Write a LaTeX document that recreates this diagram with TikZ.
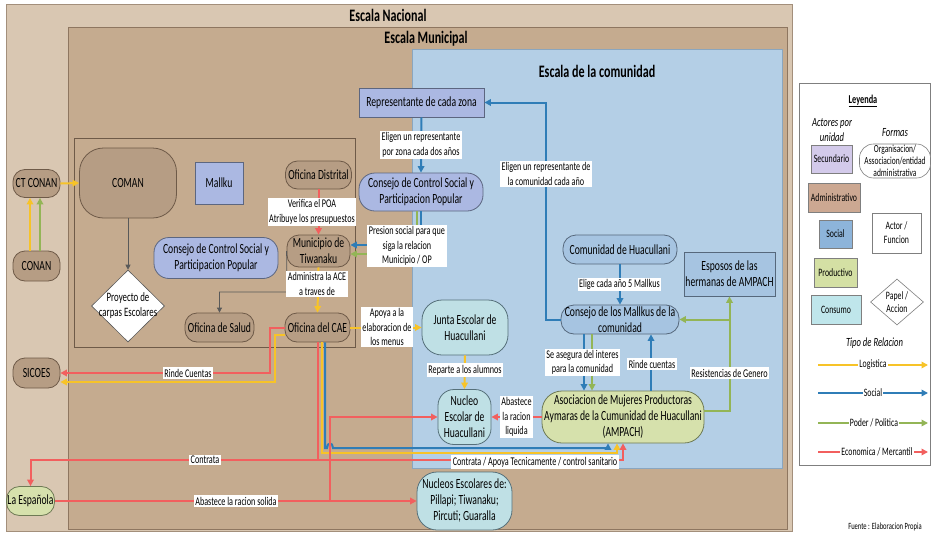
\documentclass[tikz,border=0pt]{standalone}
\usepackage{fontspec}
\setmainfont[FakeStretch=0.69]{Carlito}
\usetikzlibrary{arrows.meta,shapes.geometric}
\definecolor{nacfill}{HTML}{D9C7B2}
\definecolor{nacline}{HTML}{A38F7B}
\definecolor{munfill}{HTML}{C5AB8F}
\definecolor{munline}{HTML}{8E7660}
\definecolor{comfill}{HTML}{B4CFE6}
\definecolor{comline}{HTML}{8AA6BF}
\definecolor{admfill}{HTML}{B69D84}
\definecolor{admline}{HTML}{6E5A48}
\definecolor{secfill}{HTML}{ABB8E2}
\definecolor{secline}{HTML}{5C6680}
\definecolor{socfill}{HTML}{A6C4E1}
\definecolor{socline}{HTML}{56687C}
\definecolor{consfill}{HTML}{BFE0E5}
\definecolor{consline}{HTML}{56707A}
\definecolor{prodfill}{HTML}{D6E1AC}
\definecolor{prodline}{HTML}{6E7A55}
\definecolor{cyel}{HTML}{F7C328}
\definecolor{cblu}{HTML}{2F7DB7}
\definecolor{cgrn}{HTML}{93B556}
\definecolor{cred}{HTML}{F25F5E}
\definecolor{cgry}{HTML}{595959}
\definecolor{lgSec}{HTML}{D3CAEA}
\definecolor{lgAdm}{HTML}{CCA892}
\definecolor{lgSoc}{HTML}{8DB4DA}
\definecolor{lgPro}{HTML}{D4E0A4}
\definecolor{lgCon}{HTML}{BFE6EB}
\definecolor{lgLine}{HTML}{7F7F7F}
\newcommand{\fTitle}{\fontsize{17.5}{20}\selectfont\bfseries}
\newcommand{\fNode}{\fontsize{14}{16}\selectfont}
\newcommand{\fLab}{\fontsize{11.8}{14.5}\selectfont}
\newcommand{\fLeg}{\fontsize{11.3}{13}\selectfont}
\newcommand{\fSmall}{\fontsize{10.8}{12}\selectfont}
\begin{document}
\begin{tikzpicture}[x=1pt,y=-1pt,
  sz/.style 2 args={minimum width=#1pt, minimum height=#2pt},
  box/.style={draw, line width=0.8pt, align=center, inner sep=0pt, font=\fNode},
  admn/.style={box, fill=admfill, draw=admline, rounded corners=12pt},
  secr/.style={box, fill=secfill, draw=secline},
  secp/.style={secr, rounded corners=15pt},
  socp/.style={box, fill=socfill, draw=socline, rounded corners=13pt},
  socr/.style={box, fill=socfill, draw=socline},
  consp/.style={box, fill=consfill, draw=consline, rounded corners=16pt},
  prodp/.style={box, fill=prodfill, draw=prodline, rounded corners=13pt},
  lbl/.style={fill=white, inner sep=1.5pt, align=center, font=\fLab},
  con/.style={line width=2pt, -{Triangle[length=6.5pt,width=6.5pt]}},
  ay/.style={con, draw=cyel},
  ab/.style={con, draw=cblu},
  ag/.style={con, draw=cgrn},
  ar/.style={con, draw=cred},
  agr/.style={draw=cgry, line width=0.8pt, -{Triangle[length=5pt,width=5pt]}},
  lgbox/.style={draw=lgLine, line width=0.6pt, font=\fLeg, inner sep=0pt, align=center},
  lgl/.style={fill=white, inner sep=1pt, font=\fLeg}
]
\useasboundingbox (0,0) rectangle (932,533);
\fill[white] (0,0) rectangle (932,533);
% regions
\draw[fill=nacfill, draw=nacline, line width=0.8pt] (6,4) rectangle (792,531);
\draw[fill=munfill, draw=munline, line width=0.8pt] (68,27) rectangle (787,529);
\draw[fill=comfill, draw=comline, line width=0.8pt] (412,49) rectangle (782,468);
\draw[draw=admline, line width=0.8pt] (74,138) rectangle (355,347);
\node[font=\fTitle] (tnac) at (388,15) {Escala Nacional};
\node[font=\fTitle] (tmun) at (426,39) {Escala Municipal};
\node[font=\fTitle] (tcom) at (597,71) {Escala de la comunidad};
% nodes
\node[admn, sz={47}{28}] (ctconan) at (36.5,183.5) {CT CONAN};
\node[admn, sz={47}{30}] (conan) at (36.5,266) {CONAN};
\node[admn, sz={97}{70}, rounded corners=24pt] (coman) at (128,183) {COMAN};
\node[secr, sz={48}{42}] (mallku) at (219,183) {Mallku};
\node[admn, sz={66}{28}] (od) at (318.5,175) {Oficina Distrital};
\node[admn, sz={63}{32}] (mun) at (318.5,251) {Municipio de\\Tiwanaku};
\node[secp, sz={124}{41}] (conl) at (216,258) {Consejo de Control Social y\\Participacion Popular};
\node[diamond, draw=cgry, fill=white, line width=0.6pt, sz={73}{72}, inner sep=0pt] (proj) at (128,306) {};
\node[font=\fontsize{12.8}{15}\selectfont, align=center] at (proj) {Proyecto de\\carpas Escolares};
\node[admn, sz={69}{29}] (salud) at (219.5,327.5) {Oficina de Salud};
\node[admn, sz={65}{29}] (cae) at (317.5,327.5) {Oficina del CAE};
\node[consp, sz={86}{55}, rounded corners=20pt] (junta) at (465,327.5) {Junta Escolar de\\Huacullani};
\node[consp, sz={53}{55}] (nucleo) at (464.5,417) {Nucleo\\Escolar de\\Huacullani};
\node[consp, sz={95}{58}, rounded corners=20pt] (nucs) at (464.5,501) {Nucleos Escolares de:\\Pillapi; Tiwanaku;\\Pircuti; Guaralla};
\node[prodp, sz={162}{52}, rounded corners=20pt] (ampach) at (623,417) {Asociacion de Mujeres Productoras\\Aymaras de la Cumunidad de Huacullani\\(AMPACH)};
\node[socp, sz={118}{29}] (conm) at (620,319.5) {Consejo de los Mallkus de la\\comunidad};
\node[socp, sz={114}{29}] (com) at (620,249.5) {Comunidad de Huacullani};
\node[socr, sz={91}{44}] (esp) at (729.5,274) {Esposos de las\\hermanas de AMPACH};
\node[secr, sz={125}{29}] (rep) at (421.5,102.5) {Representante de cada zona};
\node[secp, sz={124}{38}, rounded corners=16pt] (conr) at (421,192) {Consejo de Control Social y\\Participacion Popular};
\node[admn, sz={47}{30}] (sicoes) at (36.5,373) {SICOES};
\node[prodp, sz={48}{29}] (lae) at (30.5,501) {La Española};
% connectors
\draw[ay] (ctconan.east) -- (coman.west);
\draw[ay] ([xshift=-6.5pt]conan.north) -- ([xshift=-6.5pt]ctconan.south);
\draw[ag] ([xshift=3.5pt]conan.north) -- ([xshift=3.5pt]ctconan.south);
\draw[agr] (coman.south) -- (proj.north);
\coordinate (js) at (287,292);
\draw[agr] (mun.west) -- (js) -| (salud.north);
\draw[ar] (od.south) -- (mun.north);
\draw[ay] (mun.south) -- (cae.north);
\draw[ay] (cae.east) -- (junta.west);
\draw[ay] (junta.south) -- (nucleo.north);
\draw[ab] (rep.south) -- (conr.north);
\draw[ag] ([xshift=-4pt]conr.south) |- ([yshift=-3pt]mun.east);
\draw[ab] (conr.south) |- ([yshift=6pt]mun.east);
\draw[ab] (conm.west) -| ([xshift=62pt]rep.east) -- (rep.east);
\draw[ab] (com.south) -- (conm.north);
\coordinate (a1) at ([xshift=-36pt]conm.south);
\coordinate (a2) at ([xshift=-28pt]conm.south);
\coordinate (b1) at ([xshift=28pt]ampach.north);
\draw[ab] (a1) -- (a1 |- ampach.north);
\draw[ag] (a2) -- (a2 |- ampach.north);
\draw[ab] (b1) -- (b1 |- conm.south);
\draw[ag] ([yshift=6pt]ampach.east) -| (esp.south);
\draw[ag] (esp.south |- conm.east) -- (conm.east);
\draw[ar] (ampach.west) -- (nucleo.east);
% CAE to SICOES
\draw[ar] (cae.west) -| (270,373) -- (sicoes.east);
\draw[ay] ([yshift=-7.5pt]cae.west) -| (275,382) -- ([yshift=-9pt]sicoes.east);
% CAE to AMPACH
\draw[ab] ([xshift=7.5pt]cae.south) -- (325,448) -- (327,448) .. controls (327,442) and (333,442) .. (333,448) -| ([xshift=-15pt]ampach.south);
\draw[ay] ([xshift=4pt]cae.south) -- (321.5,453) -| ([xshift=-6pt]ampach.south);
\coordinate (jc) at (317.5,460);
\draw[line width=2pt, draw=cred] (cae.south) -- (jc);
\draw[ar] (jc) -| (lae.north);
\draw[ar] (jc) -| (ampach.south);
\draw[ar] (lae.east) -- (nucs.west);
\coordinate (jb) at (330,501);
\draw[ar] (jb) |- (nucleo.west);
% labels
\node[lbl] (l1) at (312,212) {Verifica el POA\\Atribuye los presupuestos};
\node[lbl] (l2) at (317,284) {Administra la ACE\\a traves de};
\node[lbl] (l3) at (387,327) {Apoya a la\\elaboracion de\\los menus};
\node[lbl] (l4) at (421,145) {Eligen un representante\\por zona cada dos años};
\node[lbl] (l5) at (407,246) {Presion social para que\\siga la relacion\\Municipio / OP};
\node[lbl] (l6) at (546,174) {Eligen un representante de\\la comunidad cada año};
\node[lbl] (l7) at (619.5,284.5) {Elige cada año 5 Mallkus};
\node[lbl] (l8) at (582.5,362.5) {Se asegura del interes\\para la comunidad};
\node[lbl] (l9) at (652,364) {Rinde cuentas};
\node[lbl] (l10) at (729.5,373) {Resistencias de Genero};
\node[lbl] (l11) at (516.5,417) {Abastece\\la racion\\liquida};
\node[lbl] (l12) at (465,370) {Reparte a los alumnos};
\node[lbl] (l13) at (188,373) {Rinde Cuentas};
\node[lbl] (l14) at (205,460) {Contrata};
\node[lbl] (l15) at (535,462) {Contrata / Apoya Tecnicamente / control sanitario};
\node[lbl] (l16) at (236,501) {Abastece la racion solida};
% legend
\draw[draw=lgLine, fill=white, line width=0.6pt] (799,83) rectangle (930.5,465);
\node[font=\fontsize{12}{14}\selectfont\bfseries] (leyenda) at (863,101) {\underline{Leyenda}};
\node[font=\fontsize{12.5}{15}\selectfont\itshape, align=center] (actores) at (832,130) {Actores por\\unidad};
\node[font=\fontsize{12.5}{14}\selectfont\itshape] (formas) at (895,133) {Formas};
\node[lgbox, fill=lgSec, sz={41}{28}] (lsec) at (831.5,159) {Secundario};
\node[lgbox, fill=lgAdm, sz={52}{29}] (ladm) at (834,197.5) {Administrativo};
\node[lgbox, fill=lgSoc, sz={33}{28}] (lsoc) at (835.5,234) {Social};
\node[lgbox, fill=lgPro, sz={43}{29}] (lpro) at (835.5,272.5) {Productivo};
\node[lgbox, fill=lgCon, sz={50}{29}] (lcon) at (836,309.5) {Consumo};
\node[lgbox, fill=white, rounded corners=14pt, sz={71}{34}, font=\fSmall] (lorg) at (895,161) {Organisacion/\\Associacion/entidad\\administrativa};
\node[lgbox, fill=white, sz={49}{40}, font=\fontsize{11.3}{14}\selectfont] (lact) at (896.5,233) {Actor /\\Funcion};
\node[diamond, draw=lgLine, fill=white, line width=0.6pt, sz={53}{46}, inner sep=0pt] (lpap) at (897,302) {};
\node[font=\fLeg, align=center] at (lpap) {Papel /\\Accion};
\node[font=\fontsize{12.5}{14}\selectfont\itshape] (tipo) at (874.5,343) {Tipo de Relacion};
\coordinate (la1) at (818,365); \coordinate (lb1) at (928,365);
\coordinate (la2) at (818,393); \coordinate (lb2) at (928,393);
\coordinate (la3) at (818,423); \coordinate (lb3) at (928,423);
\coordinate (la4) at (818,452); \coordinate (lb4) at (928,452);
\draw[ay] (la1) -- (lb1);
\draw[ab] (la2) -- (lb2);
\draw[ag] (la3) -- (lb3);
\draw[ar] (la4) -- (lb4);
\node[lgl] at (873,365) {Logistica};
\node[lgl] at (873,393) {Social};
\node[lgl] at (874,423) {Poder / Politica};
\node[lgl] at (877,452) {Economica / Mercantil};
\node[font=\fontsize{9.5}{11}\selectfont] (fuente) at (885,527) {Fuente : Elaboracion Propia};
\end{tikzpicture}
\end{document}
